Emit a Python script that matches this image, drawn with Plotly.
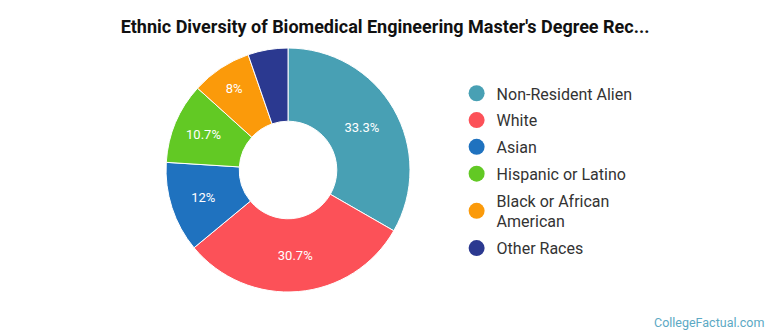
import plotly.graph_objects as go

# Share of master's degree recipients by ethnicity (percent)
groups = ["Non-Resident Alien", "White", "Asian", "Hispanic or Latino",
          "Black or African<br>American", "Other Races"]
shares = [33.3, 30.7, 12, 10.7, 8, 5.3]
slice_labels = ["33.3%", "30.7%", "12%", "10.7%", "8%", ""]
colors = ["#48a0b4", "#fc5158", "#1f72bf", "#62c924", "#fb9a0a", "#2b3990"]

fig = go.Figure()

fig.add_trace(go.Pie(
    labels=groups,
    values=shares,
    text=slice_labels,
    textinfo="text",
    textposition="inside",
    insidetextorientation="horizontal",
    textfont=dict(family="Roboto", size=13, color="white"),
    marker=dict(colors=colors, line=dict(color="white", width=1)),
    hole=0.4,
    sort=False,
    direction="clockwise",
    rotation=0,
    showlegend=False,
    hoverinfo="label+percent",
    domain=dict(x=[0.2156, 0.5325], y=[0.1284, 0.8567]),
))

# Circle-marker legend entries, one group each so the gap spaces the rows
for name, col in zip(groups, colors):
    fig.add_trace(go.Scatter(
        x=[None], y=[None], mode="markers", name=name, legendgroup=name,
        marker=dict(symbol="circle", size=16, color=col),
        showlegend=True,
    ))

fig.update_layout(
    width=770, height=335,
    margin=dict(l=0, r=0, t=0, b=0),
    paper_bgcolor="white", plot_bgcolor="white",
    xaxis=dict(visible=False), yaxis=dict(visible=False),
    title=dict(
        text="<b>Ethnic Diversity of Biomedical Engineering Master's Degree Rec...</b>",
        x=0.5, xanchor="center", y=0.92, yanchor="middle",
        font=dict(family="Roboto", size=18, color="#111111"),
    ),
    legend=dict(
        x=0.593, xanchor="left", y=0.49, yanchor="middle",
        font=dict(family="Roboto", size=16, color="#333333"),
        tracegroupgap=3, itemwidth=30,
        bgcolor="rgba(0,0,0,0)",
    ),
    annotations=[dict(
        text="CollegeFactual.com", xref="paper", yref="paper",
        x=0.995, y=0.01, xanchor="right", yanchor="bottom", showarrow=False,
        font=dict(family="Roboto", size=12.5, color="#5ca9c4"),
    )],
)

fig.write_html("out.html")
